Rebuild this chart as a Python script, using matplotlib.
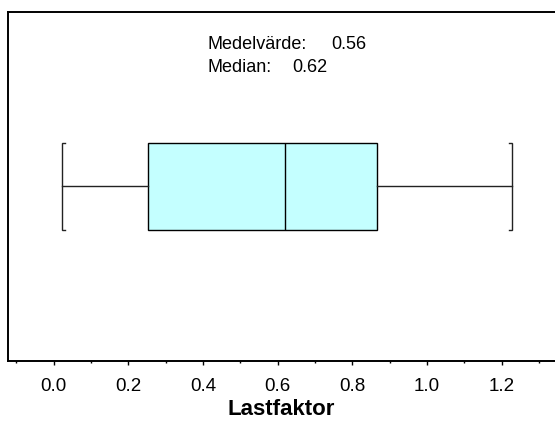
import matplotlib.pyplot as plt
import numpy as np

plt.rcParams['font.family'] = ['Liberation Sans', 'DejaVu Sans']

# summary statistics of the load factor
q1 = 0.254
median = 0.62
q3 = 0.865
whislo = 0.023
whishi = 1.228
mean = 0.56

tick_values = [0.0, 0.2, 0.4, 0.6, 0.8, 1.0, 1.2]
tick_labels = ['0.0', '0.2', '0.4', '0.6', '0.8', '1.0', '1.2']

fig = plt.figure(figsize=(5.55, 4.21), dpi=100)
ax = fig.add_axes([8 / 555, 1 - 360.7 / 421, 1 - 8 / 555, (360.7 - 12) / 421])

stats = [{'q1': q1, 'med': median, 'q3': q3, 'whislo': whislo,
          'whishi': whishi, 'mean': mean, 'fliers': []}]
ypos = 0.5
box_h = 0.25
ax.bxp(stats, positions=[ypos], widths=box_h, orientation='horizontal',
       patch_artist=True, showcaps=False, showfliers=False,
       boxprops=dict(facecolor='#c4ffff', edgecolor='black', linewidth=1.0),
       medianprops=dict(color='black', linewidth=1.0),
       whiskerprops=dict(color='#222222', linewidth=1.0))

# bracket-shaped caps at whisker ends
d = 0.008
top, bot = ypos + box_h / 2, ypos - box_h / 2
for x, s in [(whislo, 1), (whishi, -1)]:
    ax.plot([x + s * d, x, x, x + s * d], [top, top, bot, bot],
            color='#222222', lw=1.0, solid_joinstyle='miter')

ax.set_xlim(-0.122, 1.343)
ax.set_ylim(0, 1)
ax.set_yticks([])
ax.spines['right'].set_visible(False)
for s in ['left', 'top', 'bottom']:
    ax.spines[s].set_linewidth(1.4)

ax.set_xticks(tick_values)
ax.set_xticklabels(tick_labels, fontsize=13.5)
ax.set_xticks(np.arange(-0.1, 1.35, 0.1), minor=True)
ax.tick_params(axis='x', which='major', direction='out', length=3, width=1,
               pad=9.5)
ax.tick_params(axis='x', which='minor', direction='out', length=1.6, width=1)
ax.set_xlabel('Lastfaktor', fontsize=16, fontweight='bold', labelpad=3)

fig.text(207.5 / 555, 1 - 49 / 421, 'Medelvärde:', fontsize=13)
fig.text(331.7 / 555, 1 - 49 / 421, f'{mean:.2f}', fontsize=13)
fig.text(207.5 / 555, 1 - 71.5 / 421, 'Median:', fontsize=13)
fig.text(292.7 / 555, 1 - 71.5 / 421, f'{median:.2f}', fontsize=13)

fig.savefig('out.png', dpi=100)
